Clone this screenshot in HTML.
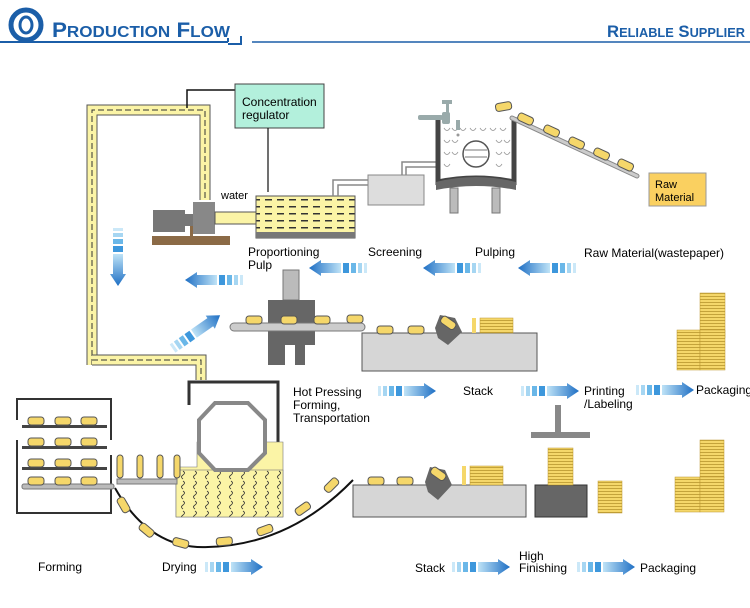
<!DOCTYPE html>
<html><head><meta charset="utf-8"><style>
html,body{margin:0;padding:0;background:#fff;}
svg{display:block;font-family:"Liberation Sans",Arial,sans-serif;}
</style></head><body>
<svg width="750" height="608" viewBox="0 0 750 608" xmlns="http://www.w3.org/2000/svg">
<defs>
<linearGradient id="ag" x1="0" x2="1"><stop offset="0" stop-color="#bfe3f7"/><stop offset="1" stop-color="#1e6fc4"/></linearGradient>
<g id="arr">
<rect x="0" y="3" width="3" height="10" fill="#cbe8f8"/>
<rect x="5" y="3" width="4" height="10" fill="#a6d6f2"/>
<rect x="11" y="3" width="5" height="10" fill="#6ab7e8"/>
<rect x="18" y="3" width="6" height="10" fill="#3d97dc"/>
<path d="M26 3 H46 V0 L58 8 L46 16 V13 H26 Z" fill="url(#ag)"/>
</g>
<g id="pad"><rect x="0" y="0" width="16" height="8" rx="3" fill="#f5d76a" stroke="#555" stroke-width="1"/></g>
<pattern id="dash" width="12" height="7" patternUnits="userSpaceOnUse"><rect width="12" height="7" fill="#fbf4a6"/><rect x="1" y="3" width="7" height="1.5" fill="#333"/></pattern>
<pattern id="wave" width="12" height="10" patternUnits="userSpaceOnUse"><rect width="12" height="10" fill="#fbf4a6"/><path d="M3 1 q3 2 0 4 q-3 2 0 4" fill="none" stroke="#333" stroke-width="0.8"/></pattern>
<pattern id="stk" width="10" height="3" patternUnits="userSpaceOnUse"><rect width="10" height="3" fill="#f5d76a"/><rect y="2" width="10" height="0.8" fill="#b9962e"/></pattern>
</defs>

<!-- header -->
<circle cx="26" cy="25" r="15" fill="none" stroke="#1b5ea8" stroke-width="5"/>
<ellipse cx="26" cy="25" rx="6" ry="8" fill="none" stroke="#1b5ea8" stroke-width="3"/>
<text x="52" y="37" fill="#1b5ea8" font-size="21" font-weight="bold" textLength="178" lengthAdjust="spacingAndGlyphs">P<tspan font-size="16">RODUCTION</tspan> F<tspan font-size="16">LOW</tspan></text>
<path d="M0 42 H228 M228 42 v-4 M228 44 H241 V36" stroke="#1b5ea8" stroke-width="2" fill="none"/>
<line x1="252" y1="42" x2="750" y2="42" stroke="#1b5ea8" stroke-width="1.5"/>
<text x="607" y="37" fill="#1b5ea8" font-size="17" font-weight="bold" textLength="138" lengthAdjust="spacingAndGlyphs">R<tspan font-size="13">ELIABLE</tspan> S<tspan font-size="13">UPPLIER</tspan></text>

<!-- pipe -->
<path d="M92 365 V110 H205 V200" fill="none" stroke="#555" stroke-width="11"/>
<path d="M92 365 V110 H205 V200" fill="none" stroke="#fbf4a6" stroke-width="9"/>
<path d="M92 365 V110 H205 V200" fill="none" stroke="#333" stroke-width="1" stroke-dasharray="6 3"/>
<path d="M92 360 H201 V380" fill="none" stroke="#555" stroke-width="11"/>
<path d="M92 360 H201 V380" fill="none" stroke="#fbf4a6" stroke-width="9"/>
<path d="M92 360 H201 V380" fill="none" stroke="#333" stroke-width="1" stroke-dasharray="6 3"/>

<path d="M187 108 V90 H235" fill="none" stroke="#111" stroke-width="1.5"/>
<rect x="235" y="84" width="89" height="44" fill="#b3f0dc" stroke="#444"/>
<text x="242" y="106" font-size="12">Concentration</text>
<text x="242" y="119" font-size="12">regulator</text>
<line x1="268" y1="128" x2="268" y2="192" stroke="#111" stroke-width="1.2"/>
<text x="221" y="199" font-size="11">water</text>

<!-- pump -->
<rect x="153" y="210" width="32" height="22" fill="#777"/>
<rect x="185" y="214" width="8" height="12" fill="#777"/>
<rect x="193" y="202" width="22" height="32" fill="#888"/>
<rect x="152" y="236" width="78" height="9" fill="#8b6a46"/>
<rect x="190" y="226" width="3" height="12" fill="#8b6a46"/>
<rect x="215" y="212" width="45" height="12" fill="#fbf4a6" stroke="#555"/>
<!-- tank -->
<rect x="256" y="196" width="99" height="42" fill="url(#dash)" stroke="#555"/>
<rect x="256" y="232" width="99" height="6" fill="#777"/>
<path d="M333 196 V180 H372 M338 196 V185 H372" fill="none" stroke="#888" stroke-width="1.5"/>
<rect x="368" y="175" width="56" height="30" fill="#ddd" stroke="#888"/>
<path d="M402 175 V162 H440 M406 175 V167 H440" fill="none" stroke="#888" stroke-width="1.5"/>

<!-- pulper -->
<rect x="438" y="118" width="76" height="60" fill="#fff"/>
<g fill="none" stroke="#999" stroke-width="0.8">
<path d="M444 128 q3 5 6 0 M452 128 q3 5 6 0 M460 128 q3 5 6 0 M470 128 q3 5 6 0 M480 128 q3 5 6 0 M490 128 q3 5 6 0 M500 128 q3 5 6 0"/>
<path d="M444 140 q3 5 6 0 M452 140 q3 5 6 0 M496 140 q3 5 6 0 M504 140 q3 5 6 0"/>
<path d="M444 152 q3 5 6 0 M452 152 q3 5 6 0 M496 152 q3 5 6 0 M504 152 q3 5 6 0"/>
<path d="M444 164 q3 5 6 0 M496 164 q3 5 6 0"/>
</g>
<circle cx="476" cy="154" r="13" fill="#fff" stroke="#555" stroke-width="1.5"/>
<path d="M465 150 H487 M465 157 H487" stroke="#777"/>
<path d="M438 117 V182 Q476 174 514 182 V117" fill="none" stroke="#444" stroke-width="5"/>
<path d="M436 182 Q476 172 516 182 V190 Q476 182 436 190Z" fill="#666"/>
<rect x="450" y="188" width="8" height="25" fill="#bbb" stroke="#777"/>
<rect x="492" y="188" width="8" height="25" fill="#bbb" stroke="#777"/>
<!-- faucet -->
<rect x="418" y="115" width="25" height="5" fill="#9aa" rx="2"/>
<rect x="442" y="112" width="8" height="12" fill="#9aa" rx="2"/>
<rect x="442" y="100" width="10" height="4" fill="#9aa"/>
<rect x="446" y="103" width="3" height="10" fill="#9aa"/>
<rect x="456" y="120" width="4" height="10" fill="#9aa"/>
<circle cx="458" cy="135" r="1.5" fill="#999"/>
<!-- incline conveyor -->
<line x1="512" y1="118" x2="637" y2="176" stroke="#888" stroke-width="5" stroke-linecap="round"/>
<line x1="512" y1="118" x2="637" y2="176" stroke="#ccc" stroke-width="3" stroke-linecap="round"/>
<g transform="translate(495,104) rotate(-10)"><use href="#pad"/></g>
<g transform="translate(520,112) rotate(25)"><use href="#pad"/></g>
<g transform="translate(546,124) rotate(25)"><use href="#pad"/></g>
<g transform="translate(571,136) rotate(25)"><use href="#pad"/></g>
<g transform="translate(596,147) rotate(25)"><use href="#pad"/></g>
<g transform="translate(620,158) rotate(25)"><use href="#pad"/></g>
<rect x="649" y="173" width="57" height="33" fill="#fad060" stroke="#999"/>
<text x="655" y="188" font-size="11">Raw</text>
<text x="655" y="201" font-size="11">Material</text>

<!-- row 1 labels -->
<text x="248" y="256" font-size="12">Proportioning</text>
<text x="248" y="269" font-size="12">Pulp</text>
<g transform="translate(367,260) scale(-1,1)"><use href="#arr"/></g>
<text x="368" y="256" font-size="12">Screening</text>
<g transform="translate(481,260) scale(-1,1)"><use href="#arr"/></g>
<text x="475" y="256" font-size="12">Pulping</text>
<g transform="translate(576,260) scale(-1,1)"><use href="#arr"/></g>
<text x="584" y="257" font-size="12">Raw Material(wastepaper)</text>
<g transform="translate(243,272) scale(-1,1)"><use href="#arr"/></g>
<g transform="translate(126,228) rotate(90)"><use href="#arr"/></g>
<g transform="translate(168,342) rotate(-35)"><use href="#arr"/></g>

<!-- press section -->
<rect x="283" y="270" width="16" height="30" fill="#bbb" stroke="#777"/>
<path d="M268 300 H315 V345 H305 V365 H295 V345 H285 V365 H268Z" fill="#666"/>
<rect x="230" y="323" width="135" height="8" rx="4" fill="#ccc" stroke="#777"/>
<use href="#pad" x="246" y="316"/><use href="#pad" x="281" y="316"/><use href="#pad" x="314" y="316"/><use href="#pad" x="347" y="315"/>
<rect x="362" y="333" width="175" height="38" fill="#d6d6d6" stroke="#555"/>
<use href="#pad" x="377" y="326"/><use href="#pad" x="408" y="326"/>
<path d="M435 328 L440 315 L455 318 L462 332 L448 345 L438 338Z" fill="#666"/>
<g transform="translate(444,315) rotate(35)"><use href="#pad"/></g>
<rect x="472" y="318" width="4" height="15" fill="#f5d76a"/>
<rect x="480" y="318" width="33" height="15" fill="url(#stk)" stroke="#b9962e" stroke-width="0.5"/>
<!-- right stacks top -->
<rect x="700" y="293" width="25" height="45" fill="url(#stk)" stroke="#b9962e" stroke-width="0.5"/>
<rect x="677" y="330" width="23" height="40" fill="url(#stk)" stroke="#b9962e" stroke-width="0.5"/>
<rect x="700" y="330" width="25" height="40" fill="url(#stk)" stroke="#b9962e" stroke-width="0.5"/>

<!-- row 2 labels -->
<text x="293" y="396" font-size="12">Hot Pressing</text>
<text x="293" y="409" font-size="12">Forming,</text>
<text x="293" y="422" font-size="12">Transportation</text>
<use href="#arr" x="378" y="383"/>
<text x="463" y="395" font-size="12">Stack</text>
<use href="#arr" x="521" y="383"/>
<text x="584" y="395" font-size="12">Printing</text>
<text x="584" y="408" font-size="12">/Labeling</text>
<use href="#arr" x="636" y="382"/>
<text x="696" y="394" font-size="12">Packaging</text>
<rect x="555" y="405" width="6" height="30" fill="#888"/>
<rect x="531" y="432" width="59" height="6" fill="#888"/>

<!-- dryer -->
<path d="M189 405 V382 H278 V442" fill="none" stroke="#333" stroke-width="3"/>
<path d="M176 517 V467 L197 467 V442 L283 442 V517Z" fill="#fbf4a6" stroke="#777" stroke-width="0.6"/>
<rect x="176" y="470" width="107" height="47" fill="url(#wave)" stroke="#777" stroke-width="0.6"/>
<polygon points="215,403 248,403 265,420 265,453 248,470 215,470 199,453 199,420" fill="#fff" stroke="#888" stroke-width="4"/>
<!-- forming rack -->
<path d="M17 440 V513 H111 V455 M17 420 V399 H111 V440" fill="none" stroke="#333" stroke-width="2"/>
<g>
<rect x="22" y="425" width="85" height="3" fill="#444"/>
<rect x="22" y="446" width="85" height="3" fill="#444"/>
<rect x="22" y="467" width="85" height="3" fill="#444"/>
<rect x="22" y="484" width="92" height="5" rx="2" fill="#bbb" stroke="#777"/>
<use href="#pad" x="28" y="417"/><use href="#pad" x="55" y="417"/><use href="#pad" x="81" y="417"/>
<use href="#pad" x="28" y="438"/><use href="#pad" x="55" y="438"/><use href="#pad" x="81" y="438"/>
<use href="#pad" x="28" y="459"/><use href="#pad" x="55" y="459"/><use href="#pad" x="81" y="459"/>
<use href="#pad" x="28" y="477"/><use href="#pad" x="55" y="477"/><use href="#pad" x="81" y="477"/>
</g>
<rect x="117" y="479" width="60" height="5" fill="#bbb" stroke="#777"/>
<rect x="117" y="455" width="6" height="23" rx="3" fill="#f5d76a" stroke="#555"/>
<rect x="137" y="455" width="6" height="23" rx="3" fill="#f5d76a" stroke="#555"/>
<rect x="157" y="455" width="6" height="23" rx="3" fill="#f5d76a" stroke="#555"/>
<rect x="174" y="455" width="6" height="23" rx="3" fill="#f5d76a" stroke="#555"/>
<path d="M115 488 Q150 550 208 547 Q290 545 353 480" fill="none" stroke="#111" stroke-width="2"/>
<g transform="translate(123,496) rotate(60)"><use href="#pad"/></g>
<g transform="translate(143,522) rotate(40)"><use href="#pad"/></g>
<g transform="translate(174,537) rotate(15)"><use href="#pad"/></g>
<g transform="translate(216,538) rotate(-5)"><use href="#pad"/></g>
<g transform="translate(256,529) rotate(-20)"><use href="#pad"/></g>
<g transform="translate(294,510) rotate(-35)"><use href="#pad"/></g>
<g transform="translate(323,488) rotate(-45)"><use href="#pad"/></g>

<!-- bottom machine -->
<rect x="353" y="485" width="173" height="32" fill="#d6d6d6" stroke="#555"/>
<use href="#pad" x="368" y="477"/><use href="#pad" x="397" y="477"/>
<path d="M425 482 L430 467 L445 470 L452 485 L438 500 L428 492Z" fill="#666"/>
<g transform="translate(434,466) rotate(35)"><use href="#pad"/></g>
<rect x="462" y="466" width="4" height="19" fill="#f5d76a"/>
<rect x="470" y="466" width="33" height="19" fill="url(#stk)" stroke="#b9962e" stroke-width="0.5"/>
<rect x="535" y="485" width="52" height="32" fill="#666" stroke="#333"/>
<rect x="548" y="448" width="25" height="37" fill="url(#stk)" stroke="#b9962e" stroke-width="0.5"/>
<rect x="598" y="481" width="24" height="32" fill="url(#stk)" stroke="#b9962e" stroke-width="0.5"/>
<rect x="700" y="440" width="24" height="38" fill="url(#stk)" stroke="#b9962e" stroke-width="0.5"/>
<rect x="675" y="477" width="25" height="35" fill="url(#stk)" stroke="#b9962e" stroke-width="0.5"/>
<rect x="700" y="477" width="24" height="35" fill="url(#stk)" stroke="#b9962e" stroke-width="0.5"/>

<!-- bottom labels -->
<text x="38" y="571" font-size="12">Forming</text>
<text x="162" y="571" font-size="12">Drying</text>
<use href="#arr" x="205" y="559"/>
<text x="415" y="572" font-size="12">Stack</text>
<use href="#arr" x="452" y="559"/>
<text x="519" y="560" font-size="12">High</text>
<text x="519" y="572" font-size="12">Finishing</text>
<use href="#arr" x="577" y="559"/>
<text x="640" y="572" font-size="12">Packaging</text>
</svg>
</body></html>
